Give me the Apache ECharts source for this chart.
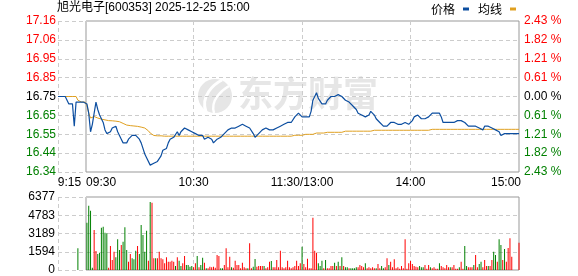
<!DOCTYPE html>
<html>
<head>
<meta charset="utf-8">
<script src="https://cdn.jsdelivr.net/npm/echarts@6/dist/echarts.min.js"></script>
<style>
html,body{margin:0;padding:0;background:#fff;}
#chart{width:578px;height:276px;}
</style>
</head>
<body>
<div id="chart"></div>
<script>
// ---------- data ----------
const titleText = '旭光电子[600353] 2025-12-25 15:00';
const seriesNames = ['价格', '均线'];
const watermarkText = '东方财富';
const prevClose = 16.75;
const bpLimit = 243;           // ±2.43 % in basis points
const volMax = 6377;

const priceTickLabels = ['17.16','17.06','16.95','16.85','16.75','16.65','16.55','16.44','16.34'];
const pctTickLabels = ['2.43 %','1.82 %','1.21 %','0.61 %','0.00 %','0.61 %','1.21 %','1.82 %','2.43 %'];
const volTickLabels = ['6377','4783','3189','1594','0'];
const timeTickIndex = [0, 15, 75, 135, 195, 255];
const timeTickLabels = ['9:15', '09:30', '10:30', '11:30/13:00', '14:00', '15:00'];
const gridLineIndex = [0, 15, 75, 135, 195, 255];

// minute categories: 9:15-9:29 auction, 9:30-11:30, 13:01-15:00
const categories = [];
function pad(n){return (n<10?'0':'')+n;}
for (let m = 9*60+15; m <= 11*60+30; m++) categories.push(pad(Math.floor(m/60))+':'+pad(m%60));
for (let m = 13*60+1; m <= 15*60; m++) categories.push(pad(Math.floor(m/60))+':'+pad(m%60));

const prices = [
16.75,16.75,16.75,16.75,16.75,16.75,16.71,16.71,16.71,16.59,
16.72,16.72,16.72,16.72,16.72,16.72,16.71,16.66,16.56,16.60,
16.66,16.72,16.68,16.65,16.64,16.61,16.57,16.55,16.55,16.56,
16.58,16.59,16.59,16.56,16.54,16.52,16.50,16.49,16.50,16.52,
16.53,16.54,16.53,16.54,16.54,16.52,16.50,16.47,16.44,16.42,
16.41,16.38,16.38,16.39,16.38,16.40,16.41,16.43,16.46,16.45,
16.47,16.50,16.52,16.53,16.53,16.53,16.56,16.54,16.56,16.55,
16.58,16.59,16.57,16.57,16.56,16.56,16.55,16.55,16.54,16.54,
16.54,16.52,16.51,16.53,16.53,16.52,16.50,16.51,16.52,16.53,
16.53,16.54,16.55,16.56,16.57,16.58,16.58,16.59,16.58,16.58,
16.59,16.59,16.60,16.60,16.59,16.59,16.58,16.57,16.55,16.53,
16.53,16.55,16.56,16.57,16.57,16.58,16.59,16.57,16.57,16.57,
16.57,16.58,16.59,16.59,16.59,16.60,16.61,16.61,16.62,16.61,
16.62,16.64,16.65,16.66,16.65,16.64,16.64,16.64,16.64,16.64,
16.67,16.73,16.75,16.77,16.74,16.73,16.71,16.72,16.71,16.73,
16.74,16.75,16.76,16.75,16.76,16.76,16.75,16.75,16.74,16.73,
16.73,16.72,16.71,16.70,16.69,16.68,16.66,16.65,16.65,16.64,
16.64,16.64,16.65,16.67,16.67,16.65,16.63,16.62,16.61,16.60,
16.59,16.60,16.59,16.60,16.61,16.60,16.61,16.61,16.60,16.60,
16.60,16.61,16.61,16.60,16.60,16.61,16.62,16.64,16.65,16.65,
16.65,16.63,16.62,16.63,16.64,16.64,16.65,16.66,16.65,16.66,
16.65,16.66,16.64,16.61,16.61,16.61,16.61,16.61,16.60,16.61,
16.62,16.62,16.62,16.62,16.62,16.61,16.60,16.59,16.59,16.59,
16.59,16.59,16.59,16.58,16.57,16.57,16.59,16.59,16.59,16.59,
16.58,16.57,16.57,16.56,16.56,16.54,16.55,16.55,16.55,16.55,
16.55,16.55,16.55,16.55,16.55,16.55
];

const avgPrices = [
16.75,16.75,16.75,16.75,16.75,16.75,16.75,16.75,16.75,16.75,
16.75,16.73,16.72,16.72,16.72,16.72,16.70,16.66,16.634,16.637,
16.642,16.640,16.634,16.630,16.628,16.626,16.624,16.622,16.620,16.620,
16.619,16.618,16.617,16.616,16.614,16.610,16.605,16.598,16.596,16.594,
16.593,16.592,16.591,16.590,16.589,16.587,16.585,16.583,16.580,16.575,
16.565,16.553,16.545,16.540,16.538,16.538,16.538,16.538,16.536,16.536,
16.536,16.536,16.536,16.536,16.536,16.536,16.536,16.536,16.536,16.536,
16.536,16.536,16.536,16.536,16.536,16.536,16.536,16.536,16.536,16.536,
16.536,16.536,16.536,16.536,16.536,16.536,16.536,16.536,16.536,16.536,
16.536,16.536,16.536,16.536,16.536,16.536,16.536,16.536,16.536,16.536,
16.536,16.536,16.536,16.536,16.536,16.536,16.536,16.536,16.536,16.536,
16.536,16.536,16.536,16.536,16.536,16.536,16.536,16.536,16.536,16.536,
16.536,16.536,16.536,16.536,16.536,16.536,16.536,16.536,16.536,16.536,
16.536,16.541,16.541,16.541,16.541,16.541,16.546,16.546,16.546,16.546,
16.546,16.546,16.553,16.553,16.553,16.553,16.553,16.553,16.557,16.557,
16.557,16.557,16.557,16.557,16.557,16.557,16.557,16.557,16.563,16.563,
16.563,16.563,16.563,16.563,16.563,16.563,16.563,16.563,16.563,16.563,
16.563,16.563,16.563,16.563,16.568,16.568,16.568,16.568,16.568,16.568,
16.568,16.568,16.568,16.568,16.568,16.568,16.568,16.568,16.568,16.568,
16.568,16.568,16.568,16.568,16.568,16.568,16.568,16.568,16.568,16.568,
16.568,16.568,16.568,16.568,16.568,16.568,16.568,16.573,16.573,16.573,
16.573,16.573,16.573,16.573,16.573,16.573,16.573,16.573,16.573,16.573,
16.573,16.573,16.573,16.573,16.573,16.573,16.573,16.573,16.573,16.573,
16.573,16.573,16.573,16.573,16.573,16.573,16.573,16.573,16.573,16.573,
16.573,16.573,16.573,16.573,16.573,16.573,16.573,16.573,16.573,16.573,
16.573,16.573,16.573,16.573,16.573,16.573
];

const volumes = [
0,0,0,0,0,0,0,0,0,0,
0,1896,0,0,0,0,4137,5623,5186,200,
3496,1661,1398,1515,3700,3787,3263,3205,200,2098,
874,1602,1107,2680,1748,2185,2476,3729,1748,728,
1398,1020,932,1690,2098,1398,3933,3059,1602,3438,
816,5943,5885,1020,1020,1020,1602,1020,932,583,
1107,728,728,816,728,350,1107,816,350,583,
1224,437,437,291,350,233,583,1224,233,437,
1078,641,146,146,291,233,291,200,1311,1224,
146,146,437,1894,233,1165,233,200,816,437,
437,146,641,233,146,146,2331,146,291,961,
291,350,350,350,350,146,233,728,787,233,
233,874,233,1690,233,146,233,816,233,146,
233,350,816,350,583,2040,524,233,990,146,
146,4574,1690,1515,583,350,816,146,874,146,
146,350,350,641,350,728,350,1107,350,233,
233,146,146,146,146,233,233,437,350,233,
583,146,233,146,233,146,146,524,146,350,
146,233,1020,437,728,233,932,146,233,100,
350,146,2680,100,583,787,524,350,291,233,
350,233,233,437,100,437,233,146,233,100,
100,583,350,233,146,437,233,233,233,437,
100,100,233,728,100,2098,350,233,233,233,
437,1311,233,524,728,233,874,350,350,350,
874,1602,1311,728,2680,2185,874,1835,728,1923,
2768,1165,0,0,0,2389
];

// 1 = up (red), -1 = down (green)
const volumeDirs = [
0,0,0,0,0,0,0,0,0,0,
0,-1,0,0,0,0,-1,-1,-1,-1,
1,1,-1,-1,-1,-1,-1,-1,1,1,
1,1,-1,-1,-1,1,-1,-1,-1,1,
1,-1,-1,-1,1,-1,-1,-1,-1,-1,
1,-1,1,1,-1,1,1,1,1,1,
1,1,1,1,1,-1,1,-1,-1,1,
1,-1,-1,-1,-1,1,1,-1,1,-1,
-1,1,-1,1,1,1,1,1,1,1,
-1,-1,1,1,1,1,-1,1,1,1,
1,1,1,1,1,-1,1,1,-1,-1,
1,1,1,1,-1,1,1,1,-1,1,
1,1,1,1,1,1,1,1,1,1,
1,1,1,1,1,-1,1,1,1,1,
1,1,1,1,-1,-1,-1,1,-1,1,
1,1,1,-1,1,-1,1,-1,1,-1,
-1,1,-1,-1,-1,-1,1,1,1,1,
-1,1,1,1,1,1,-1,1,1,-1,
-1,1,1,-1,1,1,1,1,1,1,
1,1,1,1,1,1,1,1,1,1,
-1,-1,-1,1,1,1,-1,1,1,1,
1,-1,1,1,1,1,1,-1,1,1,
1,1,-1,1,1,-1,-1,1,1,1,
-1,1,1,-1,-1,1,1,1,-1,1,
1,-1,-1,1,-1,-1,1,-1,1,1,
1,1,0,0,0,1
];

// ---------- styling ----------
const RED = '#ff0000', GREEN = '#008000', BLACK = '#000000';
const BLUE = '#0c4ea0', ORANGE = '#e0a020';
const numFont = 'Liberation Sans, Arial, sans-serif';
const cjkFont = 'Noto Sans CJK SC, sans-serif';
const dash = {type: [4, 3], color: '#cccccc', width: 1};
const WM = '#e6e6e6';

function tickIdx(v, step, top) { return Math.round((top - parseFloat(v)) / step); }
const bpStep = bpLimit / 4;
function sideColor(k){ return k < 4 ? RED : (k === 4 ? BLACK : GREEN); }

const chart = echarts.init(document.getElementById('chart'), null, {renderer: 'canvas'});

const timeRich = {
  a: {padding: [0, 0, 0, 23], fontSize: 12, fontFamily: numFont, color: BLACK},
  b: {padding: [0, 0, 0, 32], fontSize: 12, fontFamily: numFont, color: BLACK},
  c: {padding: [0, 26, 0, 0], fontSize: 12, fontFamily: numFont, color: BLACK}
};

const option = {
  animation: false,
  backgroundColor: '#ffffff',
  title: {
    text: titleText, left: 57, top: 2, padding: 0,
    textStyle: {fontSize: 12, fontWeight: 'normal', color: BLACK, fontFamily: 'Liberation Sans, Noto Sans CJK SC, sans-serif'}
  },
  legend: {
    data: seriesNames, left: 431, top: 3, padding: 0,
    icon: 'rect', itemWidth: 6, itemHeight: 3, itemGap: 9, align: 'right',
    selectedMode: false,
    textStyle: {fontSize: 12, color: BLACK, fontFamily: cjkFont, padding: [0, 3, 0, 0]}
  },
  graphic: [
    {
      type: 'circle', z: 0, silent: true,
      shape: {cx: 215, cy: 96, r: 17},
      style: {fill: WM}
    },
    {
      type: 'bezierCurve', z: 0, silent: true,
      shape: {x1: 206, y1: 112, x2: 222, y2: 80, cpx1: 200, cpy1: 96, cpx2: 214, cpy2: 84},
      style: {stroke: '#ffffff', lineWidth: 3, fill: null}
    },
    {
      type: 'bezierCurve', z: 0, silent: true,
      shape: {x1: 214, y1: 113, x2: 229, y2: 86, cpx1: 210, cpy1: 100, cpx2: 222, cpy2: 90},
      style: {stroke: '#ffffff', lineWidth: 2.5, fill: null}
    },
    {
      type: 'text', left: 238, top: 76, z: 0, silent: true,
      style: {text: watermarkText, fontSize: 35, fontWeight: 'bold', fontFamily: cjkFont, fill: WM}
    }
  ],
  grid: [
    {left: 58, top: 21, width: 461, height: 151},
    {left: 58, top: 197, width: 461, height: 73},
    {left: 86, top: 21, width: 433, height: 151, show: true, borderColor: '#999999', borderWidth: 1, backgroundColor: 'transparent'},
    {left: 86, top: 197, width: 433, height: 73, show: true, borderColor: '#999999', borderWidth: 1, backgroundColor: 'transparent'}
  ],
  xAxis: [
    {
      type: 'category', gridIndex: 0, data: categories, boundaryGap: false,
      axisLine: {show: false}, axisTick: {show: false},
      splitLine: {show: true, interval: (i) => gridLineIndex.indexOf(i) >= 0, lineStyle: dash},
      axisLabel: {
        interval: (i) => timeTickIndex.indexOf(i) >= 0,
        margin: 5, fontSize: 12, fontFamily: numFont, color: BLACK,
        formatter: (v, i) => {
          const k = timeTickIndex.indexOf(i);
          const s = timeTickLabels[k];
          if (k === 0) return '{a|' + s + '}';
          if (k === 1) return '{b|' + s + '}';
          if (k === timeTickLabels.length - 1) return '{c|' + s + '}';
          return s;
        },
        rich: timeRich
      }
    },
    {
      type: 'category', gridIndex: 1, data: categories, boundaryGap: false,
      axisLine: {show: false}, axisTick: {show: false}, axisLabel: {show: false},
      splitLine: {show: true, interval: (i) => gridLineIndex.indexOf(i) >= 0, lineStyle: dash}
    },
    {type: 'value', gridIndex: 2, show: false},
    {type: 'value', gridIndex: 3, show: false}
  ],
  yAxis: [
    {
      type: 'value', gridIndex: 0, position: 'left', min: -bpLimit, max: bpLimit, interval: bpStep,
      axisLine: {show: false}, axisTick: {show: false},
      splitLine: {show: true, lineStyle: dash},
      axisLabel: {
        margin: 2, fontSize: 12, fontFamily: numFont,
        formatter: (v) => priceTickLabels[tickIdx(v, bpStep, bpLimit)],
        color: (v) => sideColor(tickIdx(v, bpStep, bpLimit))
      }
    },
    {
      type: 'value', gridIndex: 0, position: 'right', min: -bpLimit, max: bpLimit, interval: bpStep,
      axisLine: {show: false}, axisTick: {show: false}, splitLine: {show: false},
      axisLabel: {
        margin: 5, fontSize: 12, fontFamily: numFont,
        formatter: (v) => pctTickLabels[tickIdx(v, bpStep, bpLimit)],
        color: (v) => sideColor(tickIdx(v, bpStep, bpLimit))
      }
    },
    {
      type: 'value', gridIndex: 0, show: false,
      min: prevClose * (1 - bpLimit / 10000), max: prevClose * (1 + bpLimit / 10000)
    },
    {
      type: 'value', gridIndex: 1, min: 0, max: volMax, interval: volMax / 4,
      axisLine: {show: false}, axisTick: {show: false},
      splitLine: {show: true, lineStyle: dash},
      axisLabel: {
        margin: 3, fontSize: 12, fontFamily: numFont, color: BLACK,
        formatter: (v) => volTickLabels[tickIdx(v, volMax / 4, volMax)]
      }
    },
    {type: 'value', gridIndex: 2, show: false},
    {type: 'value', gridIndex: 3, show: false}
  ],
  series: [
    {
      name: seriesNames[0], type: 'line', xAxisIndex: 0, yAxisIndex: 2, data: prices,
      showSymbol: false, symbol: 'none', z: 4,
      lineStyle: {color: BLUE, width: 1.2}, itemStyle: {color: BLUE}
    },
    {
      name: seriesNames[1], type: 'line', xAxisIndex: 0, yAxisIndex: 2, data: avgPrices,
      showSymbol: false, symbol: 'none', z: 3,
      lineStyle: {color: ORANGE, width: 1}, itemStyle: {color: ORANGE}
    },
    {
      name: '成交量', type: 'bar', xAxisIndex: 1, yAxisIndex: 3, barWidth: 1,
      data: volumes.map((v, i) => ({value: v, itemStyle: {color: volumeDirs[i] < 0 ? GREEN : RED}}))
    }
  ]
};
chart.setOption(option);
</script>
</body>
</html>
